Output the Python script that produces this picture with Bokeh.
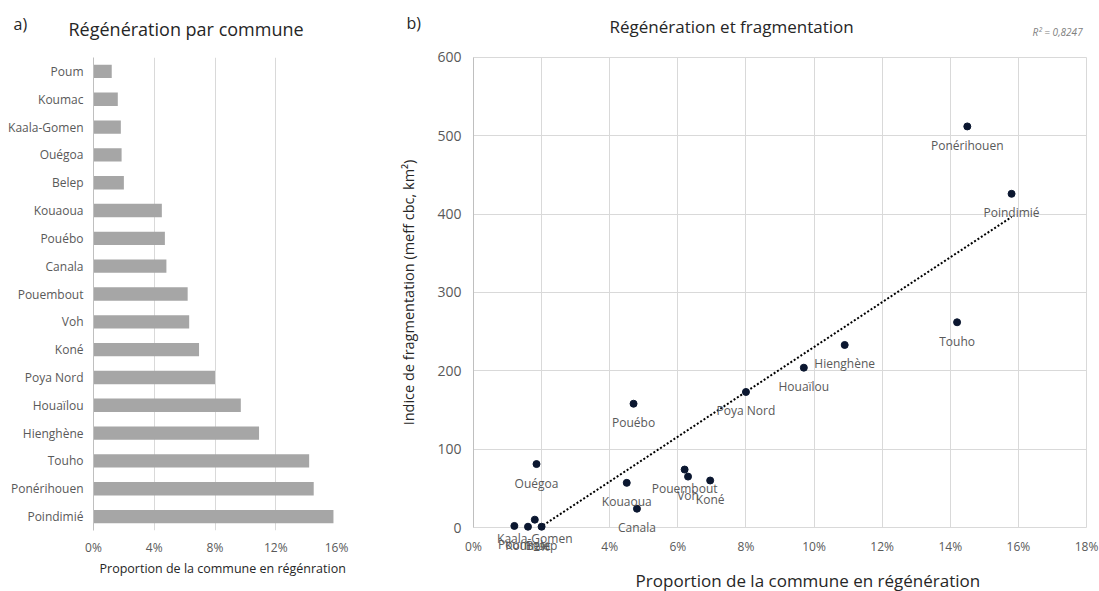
import numpy as np
from bokeh.plotting import figure
from bokeh.layouts import row, column
from bokeh.models import (ColumnDataSource, FactorRange, Range1d, Label, LabelSet,
                          PrintfTickFormatter, FixedTicker)
from bokeh.core.properties import value
from bokeh.embed import file_html
from bokeh.resources import INLINE

# Communes, listed top to bottom as in the bar chart
communes = ["Poum", "Koumac", "Kaala-Gomen", "Ouégoa", "Belep", "Kouaoua", "Pouébo",
            "Canala", "Pouembout", "Voh", "Koné", "Poya Nord", "Houaïlou", "Hienghène",
            "Touho", "Ponérihouen", "Poindimié"]
# Share of each commune in regeneration (%)
regeneration_pct = [1.2, 1.6, 1.8, 1.85, 2.0, 4.5, 4.7, 4.8, 6.2, 6.3, 6.95, 8.0, 9.7,
                    10.9, 14.2, 14.5, 15.8]
# Fragmentation index (meff cbc, km²)
fragmentation = [2, 1, 10, 81, 1, 57, 158, 24, 74, 65, 60, 173, 204, 233, 262, 512, 426]

bar_ticks = [0, 4, 8, 12, 16]
scatter_xticks = [0, 2, 4, 6, 8, 10, 12, 14, 16, 18]
scatter_yticks = [0, 100, 200, 300, 400, 500, 600]
r2_text = "R² = 0,8247"

FONT = "Open Sans"
TICK_COLOR = "#595959"
GRID_COLOR = "#d9d9d9"
AXIS_COLOR = "#bfbfbf"
TEXT_COLOR = "#262626"


def text_strip(width, height):
    """A bare figure whose frame is the whole canvas, used to hold free text."""
    f = figure(width=width, height=height, output_backend="svg", toolbar_location=None,
               x_range=Range1d(0, width), y_range=Range1d(height, 0),
               x_axis_location=None, y_axis_location=None,
               min_border_left=0, min_border_right=0, min_border_top=0,
               min_border_bottom=0)
    f.frame_align = False
    f.outline_line_color = None
    f.grid.visible = False
    return f


# ---------------- header strip with panel letters and titles ----------------
header = text_strip(1099, 40)
head_src = ColumnDataSource(dict(
    x=[13, 68, 406, 609],
    y=[23, 28, 22, 26],
    text=["a)", "Régénération par commune", "b)", "Régénération et fragmentation"],
    size=["16px", "18px", "16px", "17px"],
))
header.text(x="x", y="y", text="text", source=head_src, text_font=value(FONT),
            text_font_size="size", text_color=TEXT_COLOR, text_align="left",
            text_baseline="middle")
header.text(x=[1032], y=[31], text=[r2_text], text_font=value(FONT),
            text_font_size="10px", text_font_style="italic", text_color="#7f7f7f",
            text_align="left", text_baseline="middle")

# ---------------- a) bar chart ----------------
p1 = figure(width=385, height=520, output_backend="svg", toolbar_location=None,
            y_range=FactorRange(*communes[::-1]), x_range=Range1d(0, 16),
            min_border_left=93, min_border_right=49, min_border_top=17,
            min_border_bottom=30)
p1.frame_align = False
p1.outline_line_color = None
bar_src = ColumnDataSource(dict(commune=communes, value=regeneration_pct))
p1.hbar(y="commune", right="value", left=0, height=0.48, source=bar_src,
        fill_color="#a6a6a6", line_color=None)

p1.xaxis.ticker = FixedTicker(ticks=bar_ticks)
p1.xaxis.formatter = PrintfTickFormatter(format="%d%%")
p1.xaxis.axis_line_color = None
p1.xaxis.major_label_standoff = 8
p1.yaxis.axis_line_color = AXIS_COLOR
p1.yaxis.major_label_standoff = 10
for ax in (p1.xaxis, p1.yaxis):
    ax.major_tick_line_color = None
    ax.minor_tick_line_color = None
    ax.major_tick_out = 0
    ax.major_label_text_font = FONT
    ax.major_label_text_font_size = "12px"
    ax.major_label_text_color = TICK_COLOR
p1.ygrid.grid_line_color = None
p1.xgrid.grid_line_color = GRID_COLOR

# x title of the bar chart, under its tick labels
footer1 = text_strip(385, 31)
footer1.text(x=[99], y=[8], text=["Proportion de la commune en régénration"],
             text_font=value(FONT), text_font_size="12.5px", text_color=TEXT_COLOR,
             text_align="left", text_baseline="middle")

# ---------------- b) scatter with linear trend ----------------
# The frame fills the whole panel and both axes are pinned at zero, so the
# point labels sitting under the zero line are not cut off.
p2 = figure(width=714, height=551, output_backend="svg", toolbar_location=None,
            x_range=Range1d(-2.584, 18.382), y_range=Range1d(-81.7, 621.7),
            min_border_left=0, min_border_right=0, min_border_top=0,
            min_border_bottom=0)
p2.frame_align = False
p2.outline_line_color = None

x = np.array(regeneration_pct)
y = np.array(fragmentation)
slope, intercept = np.polyfit(x, y, 1)
x_start = max(x.min(), -intercept / slope)
trend_x = [x_start, x.max()]
trend_y = [slope * v + intercept for v in trend_x]
p2.line(trend_x, trend_y, line_color="black", line_width=2, line_dash="2 2")

pts = ColumnDataSource(dict(x=regeneration_pct, y=fragmentation, name=communes))
p2.scatter("x", "y", source=pts, size=7, fill_color="#0b1730", line_color="#0b1730")
p2.add_layout(LabelSet(x="x", y="y", text="name", source=pts, y_offset=-19,
                       text_align="center", text_baseline="middle",
                       text_font=value(FONT), text_font_size=value("12px"),
                       text_color=TICK_COLOR))

p2.xaxis.fixed_location = 0
p2.yaxis.fixed_location = 0
p2.xaxis.ticker = FixedTicker(ticks=scatter_xticks)
p2.xaxis.formatter = PrintfTickFormatter(format="%d%%")
p2.yaxis.ticker = FixedTicker(ticks=scatter_yticks)
p2.yaxis.bounds = (0, 600)
p2.xaxis.axis_line_color = None
p2.yaxis.axis_line_color = AXIS_COLOR
for ax in (p2.xaxis, p2.yaxis):
    ax.major_tick_line_color = None
    ax.minor_tick_line_color = None
    ax.major_tick_out = 0
    ax.major_label_text_font = FONT
    ax.major_label_text_color = TICK_COLOR
p2.xaxis.major_label_text_font_size = "12px"
p2.xaxis.major_label_standoff = 10
p2.yaxis.major_label_text_font_size = "14px"
p2.yaxis.major_label_standoff = 12
p2.yaxis.axis_label = "Indice de fragmentation (meff cbc, km²)"
p2.yaxis.axis_label_text_font = FONT
p2.yaxis.axis_label_text_font_size = "14.5px"
p2.yaxis.axis_label_text_font_style = "normal"
p2.yaxis.axis_label_text_color = TEXT_COLOR
p2.yaxis.axis_label_standoff = 16
p2.xgrid.ticker = FixedTicker(ticks=scatter_xticks)
p2.ygrid.ticker = FixedTicker(ticks=scatter_yticks)
p2.xgrid.grid_line_color = GRID_COLOR
p2.ygrid.grid_line_color = GRID_COLOR
p2.xgrid.cross_bounds = (0, 600)
p2.ygrid.cross_bounds = (0, 18)

p2.add_layout(Label(x=4.76, y=-67.7, text="Proportion de la commune en régénération",
                    text_font=FONT, text_font_size="17px", text_color=TEXT_COLOR,
                    text_align="left", text_baseline="middle"))

layout = column(header, row(column(p1, footer1), p2))
open("out.html", "w").write(file_html(layout, INLINE))
